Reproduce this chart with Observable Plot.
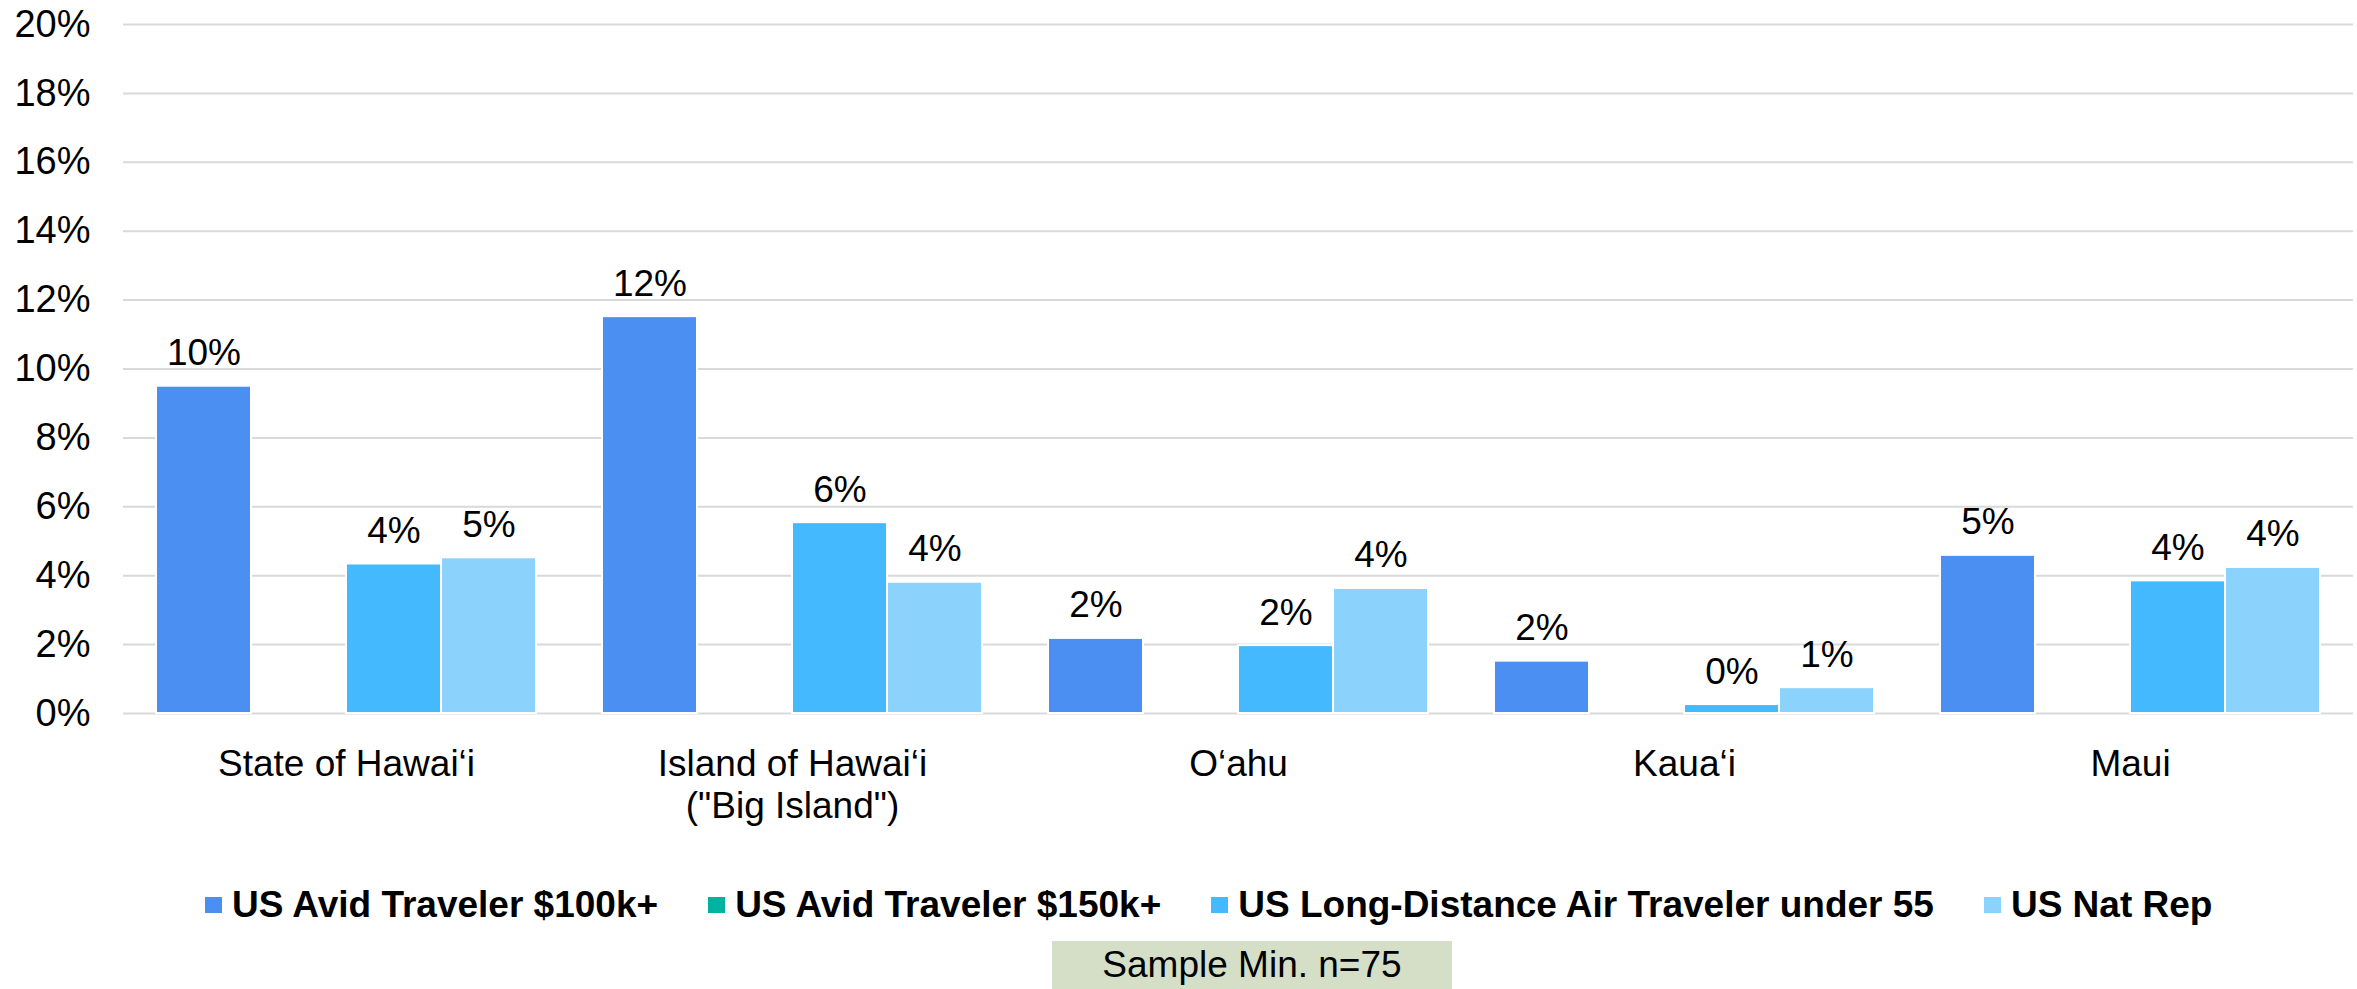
<!DOCTYPE html>
<html><head><meta charset="utf-8">
<script src="https://cdn.jsdelivr.net/npm/d3@7"></script>
<script src="https://cdn.jsdelivr.net/npm/@observablehq/plot@0.6"></script>
<style>
body{margin:0;background:#fff;font-family:"Liberation Sans",Arial,sans-serif;color:#000;}
#wrap{position:relative;width:2357px;height:989px;overflow:hidden;}
#chart{position:absolute;left:0;top:0;}
#legend{position:absolute;left:205px;top:881px;display:flex;align-items:center;gap:50px;font-weight:bold;font-size:37px;white-space:nowrap;line-height:48px;}
.item{display:flex;align-items:center;}
.sw{width:17px;height:16px;margin-right:10px;}
#sample{position:absolute;left:1052px;top:941px;width:400px;height:48px;background:#d5dfc8;font-size:37px;display:flex;align-items:center;justify-content:center;}
</style></head>
<body><div id="wrap"><div id="chart"></div><div id="legend"></div><div id="sample">Sample Min. n=75</div></div>
<script>
const categories = ["State of Hawai‘i", "Island of Hawai‘i\n(\"Big Island\")", "O‘ahu", "Kaua‘i", "Maui"];
const series = ["US Avid Traveler $100k+", "US Avid Traveler $150k+", "US Long-Distance Air Traveler under 55", "US Nat Rep"];
const avid100k = [9.5, 11.52, 2.18, 1.52, 4.59];
const avid150k = [null, null, null, null, null];
const longDistance = [4.34, 5.54, 1.97, 0.26, 3.85];
const natRep = [4.52, 3.81, 3.63, 0.75, 4.24];
const yTicks = [0, 2, 4, 6, 8, 10, 12, 14, 16, 18, 20];
const colors = ["#4b8ff2", "#00b3a1", "#44b9fe", "#8bd3fd"];

const seriesValues = [avid100k, avid150k, longDistance, natRep];
const rows = [];
categories.forEach((c, i) => {
  series.forEach((s, j) => {
    const v = seriesValues[j][i];
    if (v != null) rows.push({category: c, series: s, value: v});
  });
});

const chart = Plot.plot({
  width: 2357,
  height: 840,
  marginLeft: 122,
  marginRight: 3,
  marginTop: 24,
  marginBottom: 127,
  style: {fontFamily: "'Liberation Sans', Arial, sans-serif", fontSize: "37px", color: "#000", background: "transparent"},
  fx: {domain: categories, padding: 0, label: null},
  x: {domain: series, paddingInner: 0, paddingOuter: 0.325, axis: null},
  y: {domain: [0, 20], label: null},
  color: {domain: series, range: colors},
  marks: [
    Plot.gridY(yTicks, {stroke: "#d9d9d9", strokeOpacity: 1, strokeWidth: 2}),
    Plot.axisY(yTicks, {tickSize: 0, tickPadding: 33, tickFormat: d => d + "%", fontSize: 38, label: null}),
    Plot.axisFx({anchor: "bottom", tickSize: 0, tickPadding: 32, fontSize: 37, lineHeight: 1.15, label: null}),
    Plot.barY(rows, {fx: "category", x: "series", y: "value", fill: "series", stroke: "white", strokeWidth: 2}),
    Plot.text(rows, {fx: "category", x: "series", y: "value", text: d => Math.round(d.value) + "%", lineAnchor: "bottom", dy: -21, fontSize: 37, fill: "#000"})
  ]
});
document.getElementById("chart").appendChild(chart);

const legend = document.getElementById("legend");
series.forEach((s, j) => {
  const item = document.createElement("div");
  item.className = "item";
  const sw = document.createElement("span");
  sw.className = "sw";
  sw.style.background = colors[j];
  const t = document.createElement("span");
  t.textContent = s;
  item.appendChild(sw);
  item.appendChild(t);
  legend.appendChild(item);
});
</script>
</body></html>
